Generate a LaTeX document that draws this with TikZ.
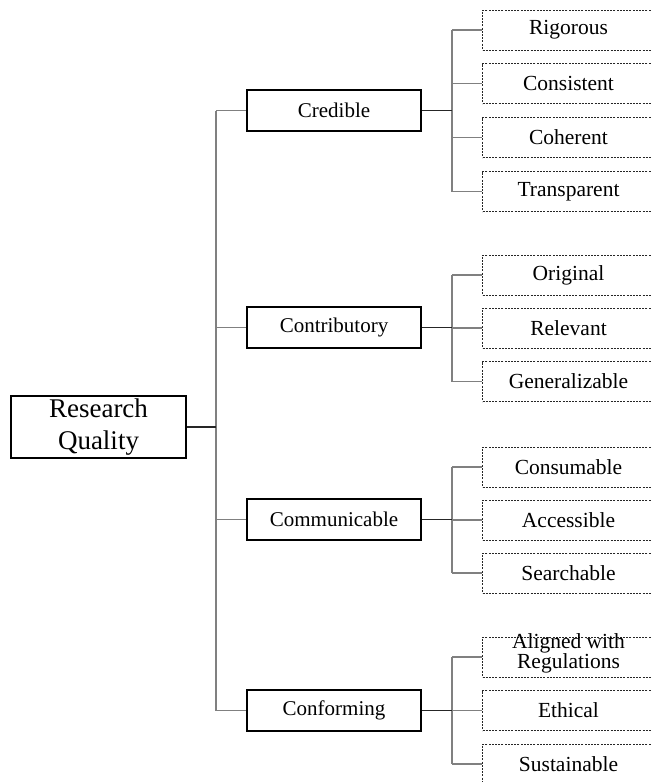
\documentclass[tikz,border=0pt]{standalone}
\usepackage{fontspec}
\setmainfont{Liberation Serif}
\newcommand{\leaftxt}[1]{\makebox[172pt]{#1}\hspace*{28pt}}
\begin{document}
\begin{tikzpicture}[x=1pt,y=-1pt,
  rootbox/.style={draw=black, line width=1.3pt, minimum width=175pt, minimum height=62pt, inner sep=0pt, align=center, font=\fontsize{27}{32}\selectfont},
  midbox/.style={draw=black, line width=1.3pt, minimum width=174pt, minimum height=41pt, inner sep=0pt, font=\fontsize{21}{24}\selectfont},
  leafbox/.style={draw=black!85, line width=1pt, dash pattern=on 2pt off 1.2pt, minimum width=200pt, minimum height=40pt, inner sep=0pt, anchor=west, font=\fontsize{21.5}{24}\selectfont},
  darkline/.style={draw=black!85, line width=1.6pt},
  greyline/.style={draw=black!50, line width=1.4pt}]
\useasboundingbox (0,0) rectangle (651,782);
% root
\node[rootbox] (rq) at (98.5,427) {Research\\Quality};
% level 1
\node[midbox] (cred) at (334,110.5) {Credible};
\node[midbox] (cont) at (334,327.5) {Contributory};
\node[midbox] (comm) at (334,519.5) {Communicable};
\node[midbox] (conf) at (334,710.5) {Conforming};
% leaves
\node[leafbox] (rig) at (482,30) {\leaftxt{Rigorous}};
\node[leafbox] (cons) at (482,83.5) {\leaftxt{Consistent}};
\node[leafbox] (coh) at (482,137.5) {\leaftxt{Coherent}};
\node[leafbox] (tra) at (482,191.5) {\leaftxt{Transparent}};
\node[leafbox] (ori) at (482,275) {\leaftxt{Original}};
\node[leafbox] (rel) at (482,328) {\leaftxt{Relevant}};
\node[leafbox] (gen) at (482,381.5) {\leaftxt{Generalizable}};
\node[leafbox] (csm) at (482,467) {\leaftxt{Consumable}};
\node[leafbox] (acc) at (482,520) {\leaftxt{Accessible}};
\node[leafbox] (sea) at (482,573) {\leaftxt{Searchable}};
\node[leafbox] (ali) at (482,657) {};
\node[font=\fontsize{21.5}{16.5}\selectfont, align=center, inner sep=0pt] (alit) at (568.5,653.5) {Aligned with\\Regulations};
\node[leafbox] (eth) at (482,710.5) {\leaftxt{Ethical}};
\node[leafbox] (sus) at (482,764) {\leaftxt{Sustainable}};
% bus coordinates
\coordinate (b0) at (216,427);
\coordinate (b1) at (452,110.5);
\coordinate (b2) at (452,327.5);
\coordinate (b3) at (452,519.5);
\coordinate (b4) at (452,710.5);
% root connectors
\draw[greyline] (b0 |- cred.west) -- (b0 |- conf.west);
\foreach \n in {cred,cont,comm,conf}{\draw[greyline] (b0 |- \n.west) -- (\n.west);}
\draw[darkline] (rq.east) -- (b0);
% Credible
\draw[greyline] (b1 |- rig.west) -- (b1 |- tra.west);
\foreach \n in {rig,cons,coh,tra}{\draw[greyline] (b1 |- \n.west) -- (\n.west);}
\draw[darkline] (cred.east) -- (b1);
% Contributory
\draw[greyline] (b2 |- ori.west) -- (b2 |- gen.west);
\foreach \n in {ori,rel,gen}{\draw[greyline] (b2 |- \n.west) -- (\n.west);}
\draw[darkline] (cont.east) -- (b2);
% Communicable
\draw[greyline] (b3 |- csm.west) -- (b3 |- sea.west);
\foreach \n in {csm,acc,sea}{\draw[greyline] (b3 |- \n.west) -- (\n.west);}
\draw[darkline] (comm.east) -- (b3);
% Conforming
\draw[greyline] (b4 |- ali.west) -- (b4 |- sus.west);
\foreach \n in {ali,eth,sus}{\draw[greyline] (b4 |- \n.west) -- (\n.west);}
\draw[darkline] (conf.east) -- (b4);
\end{tikzpicture}
\end{document}
